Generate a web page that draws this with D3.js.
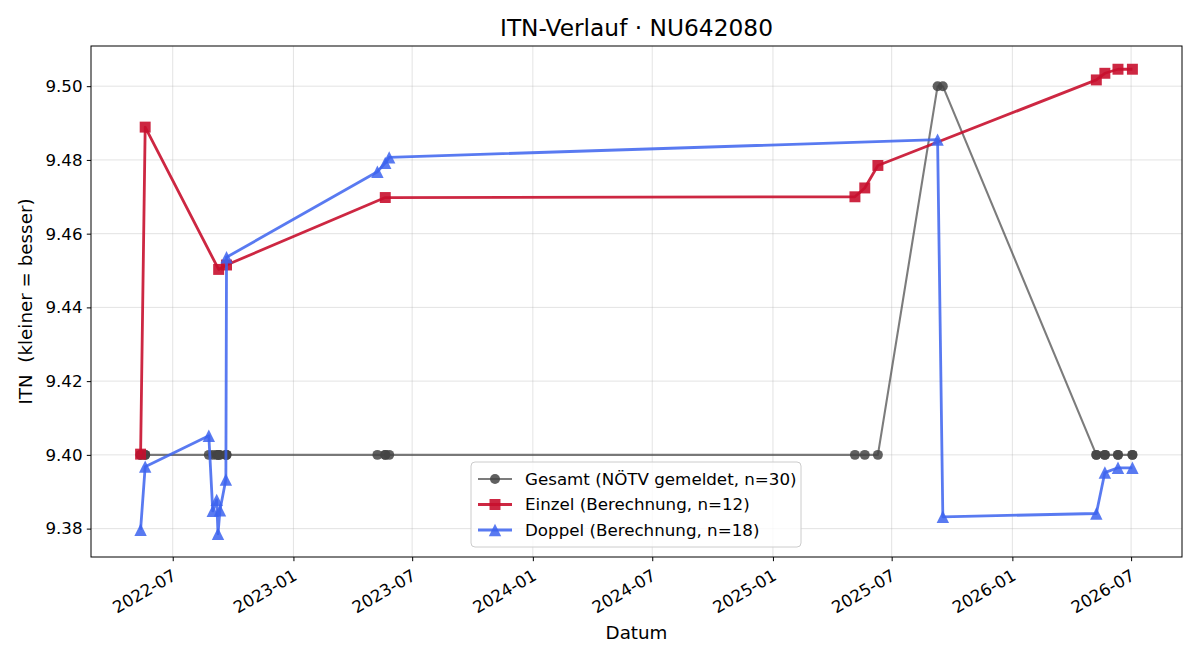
<!DOCTYPE html>
<html><head><meta charset="utf-8">
<script src="https://cdn.jsdelivr.net/npm/d3@7"></script>
<style>
body{margin:0;background:#fff;}
svg{font-family:"DejaVu Sans",sans-serif;}
</style></head>
<body><svg id="chart" width="1200" height="660"></svg>
<script>
const chartTitle = "ITN-Verlauf · NU642080";
const xLabel = "Datum";
const yLabel = "ITN  (kleiner = besser)";
const seriesNames = ["Gesamt (NÖTV gemeldet, n=30)", "Einzel (Berechnung, n=12)", "Doppel (Berechnung, n=18)"];

const gesamtDates = ["2022-05-13","2022-05-13","2022-05-20","2022-05-20","2022-08-25","2022-08-31","2022-09-06","2022-09-08","2022-09-09","2022-09-11","2022-09-20","2022-09-21","2022-09-21","2023-05-09","2023-05-21","2023-05-21","2023-05-27","2025-05-06","2025-05-21","2025-06-10","2025-09-09","2025-09-17","2026-05-09","2026-05-09","2026-05-22","2026-05-22","2026-06-11","2026-06-11","2026-07-03","2026-07-03"];
const gesamtValues = [9.40,9.40,9.40,9.40,9.40,9.40,9.40,9.40,9.40,9.40,9.40,9.40,9.40,9.40,9.40,9.40,9.40,9.40,9.40,9.40,9.50,9.50,9.40,9.40,9.40,9.40,9.40,9.40,9.40,9.40];

const einzelDates = ["2022-05-13","2022-05-20","2022-09-09","2022-09-21","2023-05-21","2025-05-06","2025-05-21","2025-06-10","2026-05-09","2026-05-22","2026-06-11","2026-07-03"];
const einzelValues = [9.4002,9.4889,9.4503,9.4515,9.4698,9.4700,9.4724,9.4785,9.5017,9.5035,9.5046,9.5046];

const doppelDates = ["2022-05-13","2022-05-20","2022-08-25","2022-08-31","2022-09-06","2022-09-08","2022-09-11","2022-09-20","2022-09-21","2023-05-09","2023-05-21","2023-05-27","2025-09-09","2025-09-17","2026-05-09","2026-05-22","2026-06-11","2026-07-03"];
const doppelValues = [9.3797,9.3968,9.4052,9.3848,9.3878,9.3786,9.3850,9.3933,9.4536,9.4768,9.4792,9.4807,9.4855,9.3832,9.3841,9.3952,9.3965,9.3965];

const xTickDates = ["2022-07-01","2023-01-01","2023-07-01","2024-01-01","2024-07-01","2025-01-01","2025-07-01","2026-01-01","2026-07-01"];
const yTickValues = [9.38,9.40,9.42,9.44,9.46,9.48,9.50];

const parse = d3.utcParse("%Y-%m-%d");
const mk = (ds, vs) => ds.map((d,i)=>({x:parse(d), y:vs[i]}));
const series = [
  {name:seriesNames[0], data:mk(gesamtDates,gesamtValues), color:"#444444", lineOpacity:0.7, markOpacity:0.85, lw:2.1, marker:"circle", size:78},
  {name:seriesNames[1], data:mk(einzelDates,einzelValues), color:"#c8102e", lineOpacity:0.9, markOpacity:0.9, lw:2.8, marker:"square", size:120},
  {name:seriesNames[2], data:mk(doppelDates,doppelValues), color:"#3c63ee", lineOpacity:0.85, markOpacity:0.85, lw:2.8, marker:"triangle", size:62}
];

const W=1200, H=660;
const m = {left:91, top:46, right:1200-1182, bottom:660-557};
const pw = W-m.left-m.right, ph = H-m.top-m.bottom;
const svg = d3.select("#chart");
const TICKFS = 16.7, LABFS = 18.3, TITLEFS = 23.3;

const all = series.flatMap(s=>s.data);
const xe = d3.extent(all, d=>d.x), ye = d3.extent(all, d=>d.y);
const xs = (xe[1]-xe[0])*0.05, ys = (ye[1]-ye[0])*0.05;
const x = d3.scaleUtc().domain([new Date(+xe[0]-xs), new Date(+xe[1]+xs)]).range([m.left, m.left+pw]);
const y = d3.scaleLinear().domain([ye[0]-ys, ye[1]+ys]).range([m.top+ph, m.top]);

const xTicks = xTickDates.map(parse);
const g = svg.append("g");
g.selectAll(".gx").data(xTicks).join("line").attr("x1",d=>x(d)).attr("x2",d=>x(d)).attr("y1",m.top).attr("y2",m.top+ph).attr("stroke","#b0b0b0").attr("stroke-opacity",0.35).attr("stroke-width",1);
g.selectAll(".gy").data(yTickValues).join("line").attr("x1",m.left).attr("x2",m.left+pw).attr("y1",d=>y(d)).attr("y2",d=>y(d)).attr("stroke","#b0b0b0").attr("stroke-opacity",0.35).attr("stroke-width",1);

const sym = {circle:d3.symbolCircle, square:d3.symbolSquare};
function markerPath(s){
  if(s.marker==="triangle"){
    const r=6.2;
    return `M0,${-r}L${r},${r}L${-r},${r}Z`;
  }
  return d3.symbol(sym[s.marker], s.size)();
}
const line = d3.line().x(d=>x(d.x)).y(d=>y(d.y));
series.forEach(s=>{
  const gs = svg.append("g");
  gs.append("path").datum(s.data).attr("d",line).attr("fill","none").attr("stroke",s.color).attr("stroke-width",s.lw).attr("stroke-opacity",s.lineOpacity).attr("stroke-linejoin","round");
  gs.selectAll("path.mk").data(s.data).join("path").attr("class","mk").attr("d",markerPath(s))
    .attr("transform",d=>`translate(${x(d.x)},${y(d.y)})`).attr("fill",s.color).attr("fill-opacity",s.markOpacity);
});

const xAxis = svg.append("g").attr("transform",`translate(0,${m.top+ph})`)
  .call(d3.axisBottom(x).tickValues(xTicks).tickFormat(d3.utcFormat("%Y-%m")).tickSize(4.2).tickPadding(3));
xAxis.select(".domain").remove();
xAxis.attr("font-family","DejaVu Sans");
xAxis.selectAll("text").attr("font-size",TICKFS).attr("fill","#000").attr("text-anchor","end")
  .attr("dy",null).attr("y",0).attr("transform","translate(2,18) rotate(-30)").attr("dominant-baseline","middle");
xAxis.selectAll("line").attr("stroke","#000").attr("stroke-width",1);

const yAxis = svg.append("g").attr("transform",`translate(${m.left},0)`)
  .call(d3.axisLeft(y).tickValues(yTickValues).tickFormat(d3.format(".2f")).tickSize(4.2).tickPadding(4.2));
yAxis.select(".domain").remove();
yAxis.attr("font-family","DejaVu Sans");
yAxis.selectAll("text").attr("font-size",TICKFS).attr("fill","#000");
yAxis.selectAll("line").attr("stroke","#000").attr("stroke-width",1);

svg.append("rect").attr("x",m.left).attr("y",m.top).attr("width",pw).attr("height",ph).attr("fill","none").attr("stroke","#000").attr("stroke-width",1);

svg.append("text").attr("x",m.left+pw/2).attr("y",36).attr("text-anchor","middle").attr("font-size",TITLEFS).attr("fill","#000").text(chartTitle);
svg.append("text").attr("x",m.left+pw/2).attr("y",639).attr("text-anchor","middle").attr("font-size",LABFS).attr("fill","#000").text(xLabel);
svg.append("text").attr("transform",`translate(32,${m.top+ph/2}) rotate(-90)`).attr("text-anchor","middle").attr("font-size",LABFS).attr("fill","#000").style("white-space","pre").text(yLabel);

const lg = svg.append("g").attr("transform","translate(471,462)");
lg.append("rect").attr("width",330).attr("height",85).attr("rx",4).attr("fill","#fff").attr("fill-opacity",0.8).attr("stroke","#cccccc").attr("stroke-width",1);
series.forEach((s,i)=>{
  const yy = 17 + i*25.5;
  lg.append("line").attr("x1",7).attr("x2",41).attr("y1",yy).attr("y2",yy).attr("stroke",s.color).attr("stroke-width",s.lw).attr("stroke-opacity",s.lineOpacity);
  lg.append("path").attr("d",markerPath(s)).attr("transform",`translate(24,${yy})`).attr("fill",s.color).attr("fill-opacity",s.markOpacity);
  lg.append("text").attr("x",54).attr("y",yy).attr("dy","0.35em").attr("font-size",TICKFS).attr("fill","#000").text(s.name);
});
</script></body></html>
